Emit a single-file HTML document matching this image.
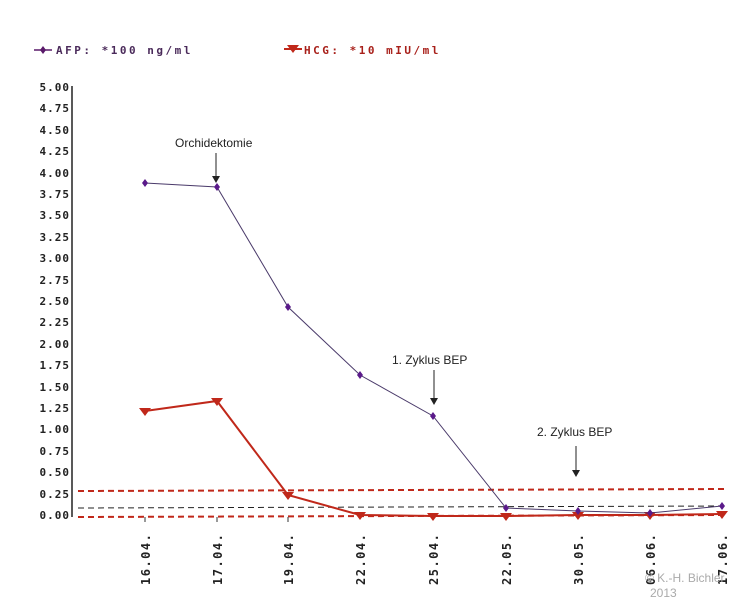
<!DOCTYPE html><html><head><style>body{margin:0;background:#fff}</style></head><body>
<svg width="749" height="600" xmlns="http://www.w3.org/2000/svg" style="font-family:'DejaVu Sans Mono','Liberation Mono',monospace">
<g font-size="11" font-weight="bold" letter-spacing="2.5">
<line x1="34" y1="50" x2="52" y2="50" stroke="#5a1a6a" stroke-width="1.5"/><path d="M43 46l3 4-3 4-3-4z" fill="#5a1a6a"/>
<text x="56" y="54" fill="#4a2a5a">AFP: *100 ng/ml</text>
<line x1="284" y1="49" x2="302" y2="49" stroke="#c0281a" stroke-width="2"/><path d="M287 45h12l-6 8z" fill="#c0281a"/>
<text x="304" y="54" fill="#a8201a">HCG: *10 mIU/ml</text>
</g>
<g font-size="11" font-weight="bold" fill="#222" text-anchor="end" letter-spacing="1">
<text x="70" y="91">5.00</text><text x="70" y="112">4.75</text><text x="70" y="134">4.50</text><text x="70" y="155">4.25</text><text x="70" y="177">4.00</text><text x="70" y="198">3.75</text><text x="70" y="219">3.50</text><text x="70" y="241">3.25</text><text x="70" y="262">3.00</text><text x="70" y="284">2.75</text><text x="70" y="305">2.50</text><text x="70" y="326">2.25</text><text x="70" y="348">2.00</text><text x="70" y="369">1.75</text><text x="70" y="391">1.50</text><text x="70" y="412">1.25</text><text x="70" y="433">1.00</text><text x="70" y="455">0.75</text><text x="70" y="476">0.50</text><text x="70" y="498">0.25</text><text x="70" y="519">0.00</text>
</g>
<line x1="72" y1="86" x2="72" y2="517" stroke="#222" stroke-width="1.5"/>
<line x1="78" y1="491" x2="728" y2="489" stroke="#c0281a" stroke-width="2" stroke-dasharray="6,4"/>
<line x1="78" y1="508" x2="728" y2="506" stroke="#222" stroke-width="1" stroke-dasharray="6,4"/>
<line x1="78" y1="517" x2="728" y2="515" stroke="#c0281a" stroke-width="2" stroke-dasharray="6,4"/>
<g stroke="#333"><line x1="145" y1="517" x2="145" y2="522"/><line x1="217" y1="517" x2="217" y2="522"/><line x1="288" y1="517" x2="288" y2="522"/></g>
<polyline points="145,411 217,401 288,495 360,515 433,516 506,516 578,515 650,515 722,514" fill="none" stroke="#c0281a" stroke-width="2"/>
<g fill="#c0281a"><path d="M139,408h12l-6,8z M211,398h12l-6,8z M282,492h12l-6,8z M354,512h12l-6,8z M427,513h12l-6,8z M500,513h12l-6,8z M572,512h12l-6,8z M644,512h12l-6,8z M716,511h12l-6,8z"/></g>
<polyline points="145,183 217,187 288,307 360,375 433,416 506,508 578,511 650,513 722,506" fill="none" stroke="#4a3a6a" stroke-width="1"/>
<g fill="#5a1a8a"><path d="M145,179l3,4-3,4-3-4z M217,183l3,4-3,4-3-4z M288,303l3,4-3,4-3-4z M360,371l3,4-3,4-3-4z M433,412l3,4-3,4-3-4z M506,504l3,4-3,4-3-4z M578,507l3,4-3,4-3-4z M650,509l3,4-3,4-3-4z M722,502l3,4-3,4-3-4z"/></g>
<g font-family="Liberation Sans,sans-serif" font-size="12" fill="#222">
<text x="175" y="147">Orchidektomie</text>
<text x="392" y="364">1. Zyklus BEP</text>
<text x="537" y="436">2. Zyklus BEP</text>
</g>
<g stroke="#222"><line x1="216" y1="153" x2="216" y2="180"/><line x1="434" y1="370" x2="434" y2="402"/><line x1="576" y1="446" x2="576" y2="474"/></g>
<g fill="#222"><path d="M212,176h8l-4,7z M430,398h8l-4,7z M572,470h8l-4,7z"/></g>
<g font-size="12" font-weight="bold" fill="#222" letter-spacing="1.5">
<text transform="translate(150,585) rotate(-90)">16.04.</text>
<text transform="translate(222,585) rotate(-90)">17.04.</text>
<text transform="translate(293,585) rotate(-90)">19.04.</text>
<text transform="translate(365,585) rotate(-90)">22.04.</text>
<text transform="translate(438,585) rotate(-90)">25.04.</text>
<text transform="translate(511,585) rotate(-90)">22.05.</text>
<text transform="translate(583,585) rotate(-90)">30.05.</text>
<text transform="translate(655,585) rotate(-90)">06.06.</text>
<text transform="translate(727,585) rotate(-90)">17.06.</text>
</g>
<g font-family="Liberation Sans,sans-serif" font-size="12" fill="#aaa">
<text x="645" y="582">© K.-H. Bichler</text><text x="650" y="597">2013</text>
</g>
</svg></body></html>
